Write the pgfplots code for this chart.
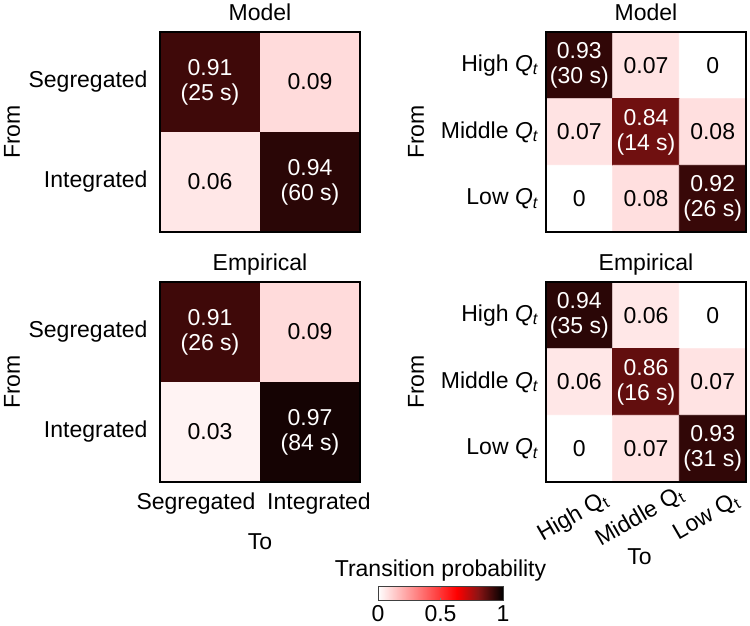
\documentclass[border=0pt]{standalone}
\usepackage{fontspec}
\setmainfont{Liberation Sans}
\usepackage{pgfplots}
\pgfplotsset{compat=1.18}
\usetikzlibrary{calc}
\newcommand{\fs}{\fontsize{11.5}{12.6}\selectfont}
\pgfplotsset{
  hm/.style={
    scale only axis, width=100pt, height=100pt,
    enlargelimits=false, y dir=reverse,
    axis on top, axis line style={line width=0.9pt},
    major tick length=0pt,
    colormap={wrk}{rgb255(0cm)=(255,255,255); rgb255(63cm)=(255,0,0); rgb255(80cm)=(140,20,20); rgb255(100cm)=(0,0,0)},
    point meta min=0, point meta max=1,
    font=\fs, tick label style={font=\fs},
    title style={font=\fs, anchor=base, at={(0.5,1)}, yshift=-0.5pt},
    label style={font=\fs},
    anchor=south west,
  },
  hm2/.style={hm, xmin=-0.5,xmax=1.5,ymin=-0.5,ymax=1.5, xtick={0,1}, ytick={0,1},
    yticklabels={Segregated,Integrated}, yticklabel style={xshift=-2.7pt},
    ylabel=From, ylabel style={at={(axis description cs:-0.74,0.5)}, anchor=center}},
  hm3/.style={hm, xmin=-0.5,xmax=2.5,ymin=-0.5,ymax=2.5, xtick={0,1,2}, ytick={0,1,2},
    yticklabels={High \textit{Q}\textsubscript{\textit{t}},Middle \textit{Q}\textsubscript{\textit{t}},Low \textit{Q}\textsubscript{\textit{t}}},
    yticklabel style={xshift=0pt},
    ylabel=From, ylabel style={at={(axis description cs:-0.65,0.5)}, anchor=center}},
  lab/.style={draw=none, mark=none, forget plot, nodes near coords, point meta=explicit symbolic,
    nodes near coords style={anchor=center, align=center, font=\fs, text=#1}},
}
\begin{document}
\begin{tikzpicture}
\path[use as bounding box] (0,0) rectangle (375pt,313pt);

% ---------- top left: Model 2x2
\begin{axis}[hm2, at={(80pt,197pt)}, title=Model, xticklabels={}]
\addplot[matrix plot*, mesh/cols=2, point meta=explicit] table[meta=c] {
x y c
0 0 0.91
1 0 0.09
0 1 0.06
1 1 0.94
};
\addplot[lab=white] table[meta=lab] {
x y lab
0 0 {0.91\\(25 s)}
1 1 {0.94\\(60 s)}
};
\addplot[lab=black] table[meta=lab] {
x y lab
1 0 {0.09}
0 1 {0.06}
};
\end{axis}

% ---------- bottom left: Empirical 2x2
\begin{axis}[hm2, at={(80pt,72pt)}, title=Empirical,
  xticklabels={{\kern-14pt Segregated},{Integrated\kern-9pt}}, xticklabel style={yshift=-2pt},
  xlabel=To, xlabel style={at={(axis description cs:0.5,-0.34)}, anchor=base},
  colorbar horizontal,
  colorbar style={
    at={($(parent axis.south west)+(109pt,-43.5pt)$)}, anchor=north west,
    scale only axis, width=62.5pt, height=7pt,
    xtick={0,0.5,1}, xticklabels={0,0.5,1},
    xticklabel style={font=\fs, yshift=0.8pt},
    major tick length=1.2pt,
    axis line style={line width=0.5pt, draw=black!75},
    title=Transition probability,
    title style={font=\fs, anchor=base, at={(0.5,1)}, yshift=-1pt},
  }]
\addplot[matrix plot*, mesh/cols=2, point meta=explicit] table[meta=c] {
x y c
0 0 0.91
1 0 0.09
0 1 0.03
1 1 0.97
};
\addplot[lab=white] table[meta=lab] {
x y lab
0 0 {0.91\\(26 s)}
1 1 {0.97\\(84 s)}
};
\addplot[lab=black] table[meta=lab] {
x y lab
1 0 {0.09}
0 1 {0.03}
};
\end{axis}

% ---------- top right: Model 3x3
\begin{axis}[hm3, at={(273pt,197pt)}, title=Model, xticklabels={}]
\addplot[matrix plot*, mesh/cols=3, point meta=explicit] table[meta=c] {
x y c
0 0 0.93
1 0 0.07
2 0 0
0 1 0.07
1 1 0.84
2 1 0.08
0 2 0
1 2 0.08
2 2 0.92
};
\addplot[lab=white] table[meta=lab] {
x y lab
0 0 {0.93\\(30 s)}
1 1 {0.84\\(14 s)}
2 2 {0.92\\(26 s)}
};
\addplot[lab=black] table[meta=lab] {
x y lab
1 0 {0.07}
2 0 {0}
0 1 {0.07}
2 1 {0.08}
0 2 {0}
1 2 {0.08}
};
\end{axis}

% ---------- bottom right: Empirical 3x3
\begin{axis}[hm3, at={(273pt,72pt)}, title=Empirical,
  xticklabels={High Q\textsubscript{t},Middle Q\textsubscript{t},Low Q\textsubscript{t}},
  xticklabel style={xshift=-3pt, yshift=-17.5pt, rotate=30, anchor=center},
  xlabel=To, xlabel style={at={(axis description cs:0.468,-0.415)}, anchor=base}]
\addplot[matrix plot*, mesh/cols=3, point meta=explicit] table[meta=c] {
x y c
0 0 0.94
1 0 0.06
2 0 0
0 1 0.06
1 1 0.86
2 1 0.07
0 2 0
1 2 0.07
2 2 0.93
};
\addplot[lab=white] table[meta=lab] {
x y lab
0 0 {0.94\\(35 s)}
1 1 {0.86\\(16 s)}
2 2 {0.93\\(31 s)}
};
\addplot[lab=black] table[meta=lab] {
x y lab
1 0 {0.06}
2 0 {0}
0 1 {0.06}
2 1 {0.07}
0 2 {0}
1 2 {0.07}
};
\end{axis}
\end{tikzpicture}
\end{document}
